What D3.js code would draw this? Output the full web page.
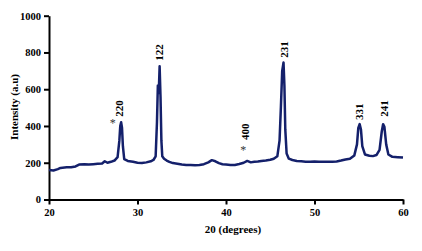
<!DOCTYPE html>
<html>
<head>
<meta charset="utf-8">
<style>
  body { margin: 0; background: #fff; }
  .axis path, .axis line { stroke: #000; stroke-width: 2; }
</style>
<script src="https://d3js.org/d3.v7.min.js"></script>
</head>
<body>
<svg width="422" height="251"></svg>
<script>
// 2-theta positions and intensities
var twoTheta = [20.0, 20.5, 21.0, 21.3, 22.0, 22.5, 23.0, 23.4, 24.0, 24.5, 25.0, 25.5, 26.0, 26.3, 26.6, 27.0, 27.4, 27.75, 27.95, 28.05,
  28.15, 28.25, 28.35, 28.5, 28.9, 29.5, 30.0, 30.5, 31.0, 31.5, 31.8, 32.05, 32.2, 32.3, 32.4, 32.5, 32.6, 32.7, 32.8, 33.0,
  33.3, 33.6, 34.0, 34.5, 35.0, 35.5, 36.0, 36.5, 37.0, 37.5, 38.0, 38.4, 38.8, 39.2, 39.6, 40.0, 40.5, 41.0, 41.5, 42.0,
  42.4, 42.8, 43.2, 43.6, 44.0, 44.5, 45.0, 45.4, 45.8, 46.05, 46.2, 46.35, 46.5, 46.6, 46.7, 46.85, 47.1, 47.5, 48.0, 48.5,
  49.0, 49.5, 50.0, 50.5, 51.0, 51.5, 52.0, 52.5, 53.0, 53.5, 54.0, 54.5, 54.8, 54.95, 55.1, 55.25, 55.4, 55.7, 56.2, 56.6,
  57.0, 57.35, 57.6, 57.75, 57.9, 58.1, 58.35, 58.8, 59.4, 60.0];
var intensity = [160, 158, 165, 172, 175, 176, 180, 190, 192, 190, 192, 194, 196, 208, 200, 205, 212, 230, 320, 400,
  420, 390, 290, 220, 210, 205, 200, 198, 202, 208, 215, 235, 420, 620, 580, 725, 560, 320, 235, 222,
  212, 205, 198, 195, 190, 188, 188, 186, 188, 192, 202, 214, 208, 198, 192, 190, 188, 188, 193, 200,
  210, 202, 205, 207, 210, 212, 216, 222, 235, 320, 500, 700, 745, 620, 380, 250, 222, 215, 210, 208,
  206, 206, 207, 205, 206, 205, 206, 207, 212, 218, 222, 240, 300, 390, 410, 380, 290, 245, 238, 236,
  242, 270, 370, 410, 395, 300, 245, 232, 230, 228];

// peak indices (rotated text), placed by 2-theta and intensity at the text start
var peakLabels = ["220", "122", "400", "231", "331", "241"];
var peakTheta = [27.9, 32.46, 42.15, 46.55, 55.06, 57.89];
var peakLabelBase = [450, 755, 324, 771, 433, 450];

// impurity markers
var starTheta = [27.2, 41.95];
var starIntensity = [433, 288];

var xTicks = [20, 30, 40, 50, 60];
var yTicks = [0, 200, 400, 600, 800, 1000];

var serif = "'Liberation Serif', 'Times New Roman', 'DejaVu Serif', serif";

var svg = d3.select("svg");
var x = d3.scaleLinear().domain([20, 60]).range([49, 403]);
var y = d3.scaleLinear().domain([0, 1000]).range([199.5, 15.7]);

svg.append("g")
   .attr("class", "axis")
   .attr("transform", "translate(0," + y(0) + ")")
   .call(d3.axisBottom(x).tickValues(xTicks).tickFormat(d3.format("d")).tickSize(5).tickPadding(4).tickSizeOuter(0))
   .attr("font-family", serif)
   .attr("font-size", 10.5)
   .attr("font-weight", "bold");

svg.append("g")
   .attr("class", "axis")
   .attr("transform", "translate(" + x(20) + ",0)")
   .call(d3.axisLeft(y).tickValues(yTicks).tickFormat(d3.format("d")).tickSize(5).tickPadding(3).tickSizeOuter(0))
   .attr("font-family", serif)
   .attr("font-size", 10.5)
   .attr("font-weight", "bold");

var pts = twoTheta.map(function(t, i) { return [t, intensity[i]]; });

svg.append("path")
   .datum(pts)
   .attr("fill", "none")
   .attr("stroke", "#14206b")
   .attr("stroke-width", 2.5)
   .attr("stroke-linejoin", "round")
   .attr("d", d3.line().x(function(d) { return x(d[0]); }).y(function(d) { return y(d[1]); }));

svg.selectAll(".peak")
   .data(peakLabels)
   .enter().append("text")
   .attr("class", "peak")
   .attr("font-family", serif)
   .attr("font-weight", "bold")
   .attr("font-size", "11px")
   .attr("dy", "0.35em")
   .attr("transform", function(d, i) {
       return "translate(" + x(peakTheta[i]) + "," + y(peakLabelBase[i]) + ") rotate(-90)";
   })
   .text(function(d) { return d; });

svg.selectAll(".star")
   .data(starTheta)
   .enter().append("text")
   .attr("class", "star")
   .attr("font-family", serif)
   .attr("font-size", "12px")
   .attr("fill", "#333")
   .attr("text-anchor", "middle")
   .attr("x", function(d) { return x(d); })
   .attr("y", function(d, i) { return y(starIntensity[i]); })
   .attr("dy", "0.6em")
   .text("*");

svg.append("text")
   .attr("x", 233)
   .attr("y", 233)
   .attr("text-anchor", "middle")
   .attr("font-family", serif)
   .attr("font-weight", "bold")
   .attr("font-size", "11px")
   .text("20 (degrees)");

svg.append("text")
   .attr("transform", "translate(18,107) rotate(-90)")
   .attr("text-anchor", "middle")
   .attr("font-family", serif)
   .attr("font-weight", "bold")
   .attr("font-size", "11px")
   .text("Intensity (a.u)");
</script>
</body>
</html>
